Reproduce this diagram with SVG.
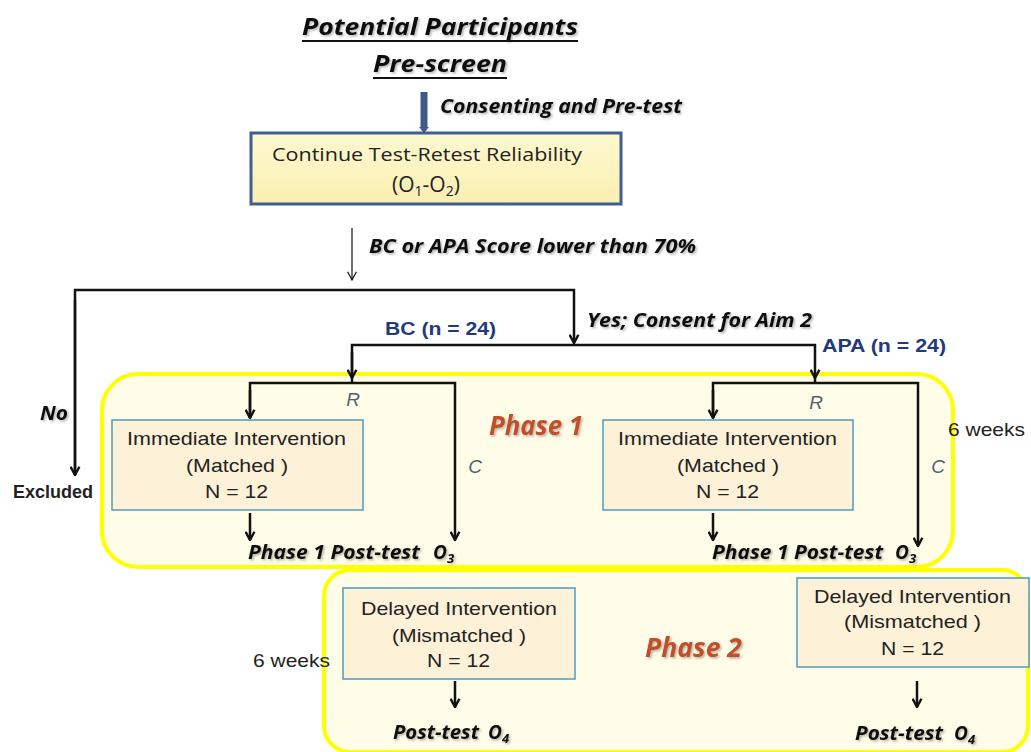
<svg xmlns="http://www.w3.org/2000/svg" width="1031" height="752" viewBox="0 0 1031 752">
  <defs>
    <marker id="arr" viewBox="0 0 10 10" refX="9" refY="5" markerWidth="11" markerHeight="11" markerUnits="userSpaceOnUse" orient="auto">
      <path d="M1.5,1 L9,5 L1.5,9" fill="none" stroke="#111" stroke-width="2.2"/>
    </marker>
    <marker id="arrThin" viewBox="0 0 10 10" refX="9" refY="5" markerWidth="11" markerHeight="11" markerUnits="userSpaceOnUse" orient="auto">
      <path d="M1.5,1 L9,5 L1.5,9" fill="none" stroke="#111" stroke-width="1.1"/>
    </marker>
    <filter id="shadow" x="-10%" y="-20%" width="130%" height="160%">
      <feDropShadow dx="1.5" dy="1.5" stdDeviation="1" flood-color="#000" flood-opacity="0.3"/>
    </filter>
    <linearGradient id="topFill" x1="0" y1="0" x2="0" y2="1">
      <stop offset="0" stop-color="#fdf8cf"/>
      <stop offset="1" stop-color="#faefb2"/>
    </linearGradient>
  </defs>
  <style>
    .cal { font-family: "Open Sans", Lato, "Liberation Sans", sans-serif; fill: #222; }
    .bi { font-family: "Open Sans", Lato, "Liberation Sans", sans-serif; font-weight: 700; font-style: italic; fill: #111; }
    .ar { font-family: "Liberation Sans", Arial, sans-serif; fill: #222; font-size: 19px; }
    .blue { font-family: "Liberation Sans", Arial, sans-serif; font-weight: 700; fill: #1f3a7e; font-size: 19px; }
    .phase { fill: #fffde8; stroke: #ffff00; stroke-width: 4; }
    .box { fill: #fdf1d8; stroke: #4a9cc4; stroke-width: 1.5; }
    .line { fill: none; stroke: #111; stroke-width: 2.5; }
    .phaseLabel { font-family: "Open Sans", Lato, "Liberation Sans", sans-serif; font-weight: 700; font-style: italic; font-size: 26px; fill: #c0502a; }
    .ri { font-family: "Liberation Sans", Arial, sans-serif; font-style: italic; font-size: 19px; fill: #4d6474; }
  </style>

  <!-- phase panels -->
  <g id="phase1">
    <rect class="phase" x="102" y="374" width="851" height="193" rx="36"/>
    <text class="phaseLabel" x="489" y="435" textLength="94" lengthAdjust="spacingAndGlyphs" filter="url(#shadow)">Phase 1</text>
  </g>
  <g id="phase2">
    <rect class="phase" x="324" y="570" width="704" height="182" rx="26"/>
    <text class="phaseLabel" x="645" y="657" textLength="97" lengthAdjust="spacingAndGlyphs" filter="url(#shadow)">Phase 2</text>
  </g>

  <!-- title -->
  <g id="title">
    <text class="bi" x="302" y="35" font-size="24" textLength="276" lengthAdjust="spacingAndGlyphs" filter="url(#shadow)">Potential Participants</text>
    <line x1="302" y1="41" x2="578" y2="41" stroke="#111" stroke-width="2"/>
    <text class="bi" x="373" y="72" font-size="24" textLength="134" lengthAdjust="spacingAndGlyphs" filter="url(#shadow)">Pre-screen</text>
    <line x1="373" y1="78" x2="507" y2="78" stroke="#111" stroke-width="2"/>
  </g>

  <!-- test-retest box -->
  <g id="reliability">
    <rect x="251" y="133" width="370" height="71" fill="url(#topFill)" stroke="#3f5f8f" stroke-width="3"/>
    <text class="cal" x="272" y="161" font-size="19" textLength="310" lengthAdjust="spacingAndGlyphs">Continue Test-Retest Reliability</text>
    <text class="cal" x="392" y="192" font-size="21">(O<tspan font-size="14" dy="4">1</tspan><tspan dy="-4">-O</tspan><tspan font-size="14" dy="4">2</tspan><tspan dy="-4">)</tspan></text>
  </g>

  <!-- intervention boxes -->
  <g id="imm-bc">
    <rect class="box" x="112" y="420" width="251" height="90"/>
    <text class="ar" x="127" y="445" textLength="219" lengthAdjust="spacingAndGlyphs">Immediate Intervention</text>
    <text class="ar" x="186" y="472" textLength="102" lengthAdjust="spacingAndGlyphs">(Matched )</text>
    <text class="ar" x="205" y="498" textLength="63" lengthAdjust="spacingAndGlyphs">N = 12</text>
  </g>
  <g id="imm-apa">
    <rect class="box" x="603" y="420" width="250" height="90"/>
    <text class="ar" x="618" y="445" textLength="219" lengthAdjust="spacingAndGlyphs">Immediate Intervention</text>
    <text class="ar" x="677" y="472" textLength="102" lengthAdjust="spacingAndGlyphs">(Matched )</text>
    <text class="ar" x="696" y="498" textLength="63" lengthAdjust="spacingAndGlyphs">N = 12</text>
  </g>
  <g id="del-bc">
    <rect class="box" x="343" y="588" width="232" height="91"/>
    <text class="ar" x="361" y="615" textLength="196" lengthAdjust="spacingAndGlyphs">Delayed Intervention</text>
    <text class="ar" x="392" y="642" textLength="134" lengthAdjust="spacingAndGlyphs">(Mismatched )</text>
    <text class="ar" x="427" y="667" textLength="63" lengthAdjust="spacingAndGlyphs">N = 12</text>
  </g>
  <g id="del-apa">
    <rect class="box" x="797" y="578" width="232" height="89"/>
    <text class="ar" x="814" y="603" textLength="197" lengthAdjust="spacingAndGlyphs">Delayed Intervention</text>
    <text class="ar" x="844" y="628" textLength="137" lengthAdjust="spacingAndGlyphs">(Mismatched )</text>
    <text class="ar" x="881" y="655" textLength="63" lengthAdjust="spacingAndGlyphs">N = 12</text>
  </g>

  <!-- connectors -->
  <g id="connectors">
    <path d="M424,92 V128" stroke="#3d5a88" stroke-width="7" fill="none"/>
    <path d="M419,127 L424,133 L429,127 Z" fill="#3d5a88"/>
    <line x1="352" y1="228" x2="352" y2="280" stroke="#111" stroke-width="1.2" marker-end="url(#arrThin)"/>
    <!-- screening split -->
    <path class="line" d="M75,475 V290 H574 V343" marker-end="url(#arr)"/>
    <line class="line" x1="75" y1="300" x2="75" y2="475" marker-end="url(#arr)"/>
    <!-- BC / APA split -->
    <path class="line" d="M352,378 V345 H815 V378" marker-end="url(#arr)"/>
    <line class="line" x1="352" y1="352" x2="352" y2="378" marker-end="url(#arr)"/>
    <line class="line" x1="352" y1="378" x2="352" y2="383"/>
    <line class="line" x1="815" y1="378" x2="815" y2="383"/>
    <!-- BC randomisation -->
    <path class="line" d="M250,418 V383 H455 V540" marker-end="url(#arr)"/>
    <line class="line" x1="250" y1="390" x2="250" y2="418" marker-end="url(#arr)"/>
    <line class="line" x1="250" y1="513" x2="250" y2="540" marker-end="url(#arr)"/>
    <!-- APA randomisation -->
    <path class="line" d="M713,418 V383 H918 V546" marker-end="url(#arr)"/>
    <line class="line" x1="713" y1="390" x2="713" y2="418" marker-end="url(#arr)"/>
    <line class="line" x1="713" y1="513" x2="713" y2="540" marker-end="url(#arr)"/>
    <!-- phase 2 -->
    <line class="line" x1="455" y1="681" x2="455" y2="707" marker-end="url(#arr)"/>
    <line class="line" x1="917" y1="681" x2="917" y2="707" marker-end="url(#arr)"/>
  </g>

  <!-- connector labels -->
  <g id="labels">
    <text class="bi" x="440" y="113" font-size="19" textLength="242" lengthAdjust="spacingAndGlyphs" filter="url(#shadow)">Consenting and Pre-test</text>
    <text class="bi" x="369" y="253" font-size="19" textLength="327" lengthAdjust="spacingAndGlyphs" filter="url(#shadow)">BC or APA Score lower than 70%</text>
    <text class="bi" x="587" y="327" font-size="19" textLength="225" lengthAdjust="spacingAndGlyphs" filter="url(#shadow)">Yes; Consent for Aim 2</text>
    <text class="blue" x="385" y="335" textLength="111" lengthAdjust="spacingAndGlyphs">BC (n = 24)</text>
    <text class="blue" x="822" y="352" textLength="124" lengthAdjust="spacingAndGlyphs">APA (n = 24)</text>
    <text class="bi" x="40" y="420" font-size="19" textLength="28" lengthAdjust="spacingAndGlyphs" filter="url(#shadow)">No</text>
    <text class="ar" x="13" y="498" font-size="16" font-weight="700" fill="#111" textLength="80" lengthAdjust="spacingAndGlyphs">Excluded</text>
    <text class="ri" x="353" y="406" text-anchor="middle">R</text>
    <text class="ri" x="816" y="409" text-anchor="middle">R</text>
    <text class="ri" x="475" y="473" text-anchor="middle" fill="#333">C</text>
    <text class="ri" x="938" y="473" text-anchor="middle" fill="#333">C</text>
    <text class="ar" x="948" y="436" fill="#111" textLength="77" lengthAdjust="spacingAndGlyphs">6 weeks</text>
    <text class="ar" x="253" y="667" fill="#111" textLength="77" lengthAdjust="spacingAndGlyphs">6 weeks</text>
    <text class="bi" x="248" y="559" font-size="19" textLength="172" lengthAdjust="spacingAndGlyphs" filter="url(#shadow)">Phase 1 Post-test</text>
    <text class="bi" x="433" y="559" font-size="19" filter="url(#shadow)">O<tspan font-size="13" dy="4">3</tspan></text>
    <text class="bi" x="712" y="559" font-size="19" textLength="171" lengthAdjust="spacingAndGlyphs" filter="url(#shadow)">Phase 1 Post-test</text>
    <text class="bi" x="895" y="559" font-size="19" filter="url(#shadow)">O<tspan font-size="13" dy="4">3</tspan></text>
    <text class="bi" x="393" y="739" font-size="19" textLength="86" lengthAdjust="spacingAndGlyphs" filter="url(#shadow)">Post-test</text>
    <text class="bi" x="488" y="739" font-size="19" filter="url(#shadow)">O<tspan font-size="13" dy="4">4</tspan></text>
    <text class="bi" x="855" y="740" font-size="19" textLength="88" lengthAdjust="spacingAndGlyphs" filter="url(#shadow)">Post-test</text>
    <text class="bi" x="954" y="740" font-size="19" filter="url(#shadow)">O<tspan font-size="13" dy="4">4</tspan></text>
  </g>
</svg>
